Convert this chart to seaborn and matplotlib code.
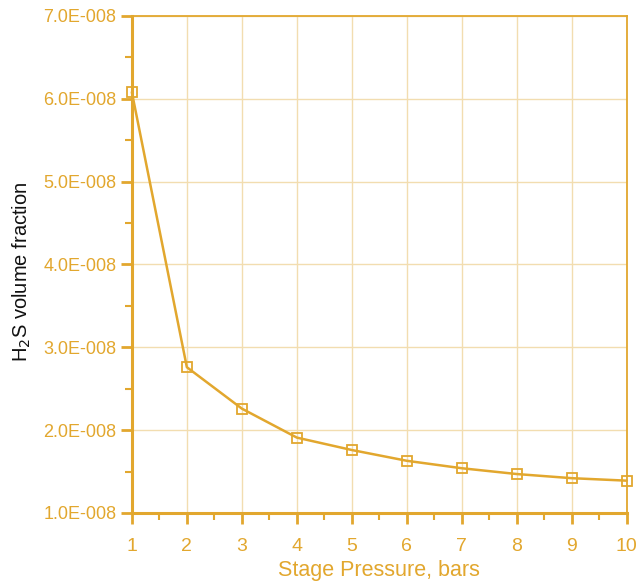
import matplotlib
matplotlib.use("Agg")
import matplotlib.pyplot as plt
import seaborn as sns
import pandas as pd
from matplotlib.ticker import FuncFormatter, MultipleLocator

pressure = [1, 2, 3, 4, 5, 6, 7, 8, 9, 10]
h2s = [6.08e-8, 2.76e-8, 2.26e-8, 1.91e-8, 1.76e-8, 1.63e-8, 1.54e-8, 1.47e-8, 1.42e-8, 1.39e-8]

sns.set_theme(style="white")
plt.rcParams['font.family'] = ['Liberation Sans', 'DejaVu Sans']

col = "#E2A72E"
grid_col = "#F2DDB0"
df = pd.DataFrame({"p": pressure, "v": h2s})

fig = plt.figure(figsize=(6.37, 5.88), dpi=100)
ax = fig.add_axes([0.207, 0.1276, 0.777, 0.8452])
sns.lineplot(data=df, x="p", y="v", ax=ax, color=col, lw=1.8, marker="s",
             markersize=7, markerfacecolor="none", markeredgecolor=col, markeredgewidth=1.3,
             clip_on=False, zorder=5)

ax.set_xlim(1, 10)
ax.set_ylim(1e-8, 7e-8)
ax.xaxis.set_major_locator(MultipleLocator(1))
ax.xaxis.set_minor_locator(MultipleLocator(0.5))
ax.yaxis.set_major_locator(MultipleLocator(1e-8))
ax.yaxis.set_minor_locator(MultipleLocator(0.5e-8))
ax.yaxis.set_major_formatter(FuncFormatter(lambda v, p: f"{v*1e8:.1f}E-008"))
ax.grid(True, which="major", color=grid_col, lw=1.0)
for s in ["left", "bottom"]:
    ax.spines[s].set_color(col)
    ax.spines[s].set_linewidth(2.2)
for s in ["top", "right"]:
    ax.spines[s].set_color(col)
    ax.spines[s].set_linewidth(1.3)
ax.tick_params(axis="both", which="major", direction="out", length=8, width=2, color=col,
               labelcolor=col, bottom=True, left=True)
ax.tick_params(axis="x", which="major", pad=10, labelsize=14)
ax.tick_params(axis="y", which="major", pad=3, labelsize=13)
ax.tick_params(axis="both", which="minor", direction="out", length=5, width=1.5, color=col,
               bottom=True, left=True)
ax.set_xlabel("Stage Pressure, bars", color=col, fontsize=15.5)
ax.xaxis.set_label_coords(0.5, -0.095)
ax.set_ylabel("H$_2$S volume fraction", color="#111111", fontsize=14.5)
ax.yaxis.set_label_coords(-0.20, 0.485)
fig.savefig("out.png", dpi=100)
